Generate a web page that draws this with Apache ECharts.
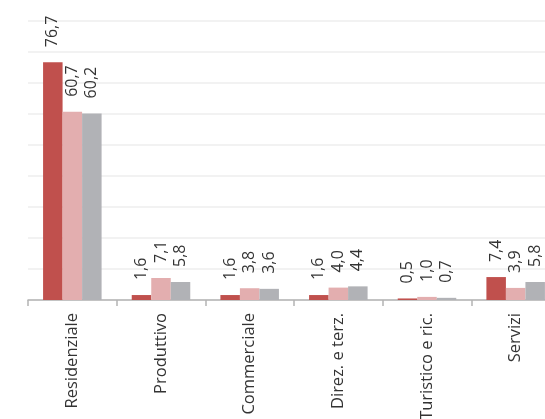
<!DOCTYPE html>
<html>
<head>
<meta charset="utf-8">
<script src="https://cdn.jsdelivr.net/npm/echarts@6/dist/echarts.min.js"></script>
<style>html,body{margin:0;padding:0;background:#fff;}#c{width:545px;height:419px;}</style>
</head>
<body>
<div id="c"></div>
<script>
const categories = ['Residenziale', 'Produttivo', 'Commerciale', 'Direz. e terz.', 'Turistico e ric.', 'Servizi'];
const series1 = [76.7, 1.6, 1.6, 1.6, 0.5, 7.4];
const series2 = [60.7, 7.1, 3.8, 4.0, 1.0, 3.9];
const series3 = [60.2, 5.8, 3.6, 4.4, 0.7, 5.8];
const colors = ['#c0504d', '#e3aeaf', '#b1b2b6'];

const labelOpt = {
  show: true,
  position: 'top',
  rotate: 90,
  align: 'left',
  verticalAlign: 'middle',
  distance: 15,
  fontFamily: 'Open Sans',
  fontSize: 16,
  color: '#333333',
  formatter: p => p.value.toFixed(1).replace('.', ',')
};

const chart = echarts.init(document.getElementById('c'), null, {renderer: 'canvas'});
chart.setOption({
  animation: false,
  grid: {left: 28, width: 532, top: 21, bottom: 119, containLabel: false, outerBoundsMode: 'none'},
  xAxis: {
    type: 'category',
    data: categories,
    axisLine: {lineStyle: {color: '#b4b4b4', width: 1.5}},
    axisTick: {show: true, length: 6, lineStyle: {color: '#b4b4b4', width: 1.5}},
    axisLabel: {rotate: 90, margin: 13, fontFamily: 'Open Sans', fontSize: 16.5, color: '#333333', interval: 0}
  },
  yAxis: {
    type: 'value',
    min: 0, max: 90, interval: 10,
    axisLabel: {show: false},
    axisLine: {show: false},
    axisTick: {show: false},
    splitLine: {lineStyle: {color: '#eeeeee', width: 1.5}}
  },
  series: [
    {type: 'bar', data: series1, itemStyle: {color: colors[0]}, barGap: '0%', barCategoryGap: '34%', label: labelOpt},
    {type: 'bar', data: series2, itemStyle: {color: colors[1]}, barGap: '0%', barCategoryGap: '34%', label: labelOpt},
    {type: 'bar', data: series3, itemStyle: {color: colors[2]}, barGap: '0%', barCategoryGap: '34%', label: labelOpt}
  ]
});
</script>
</body>
</html>
